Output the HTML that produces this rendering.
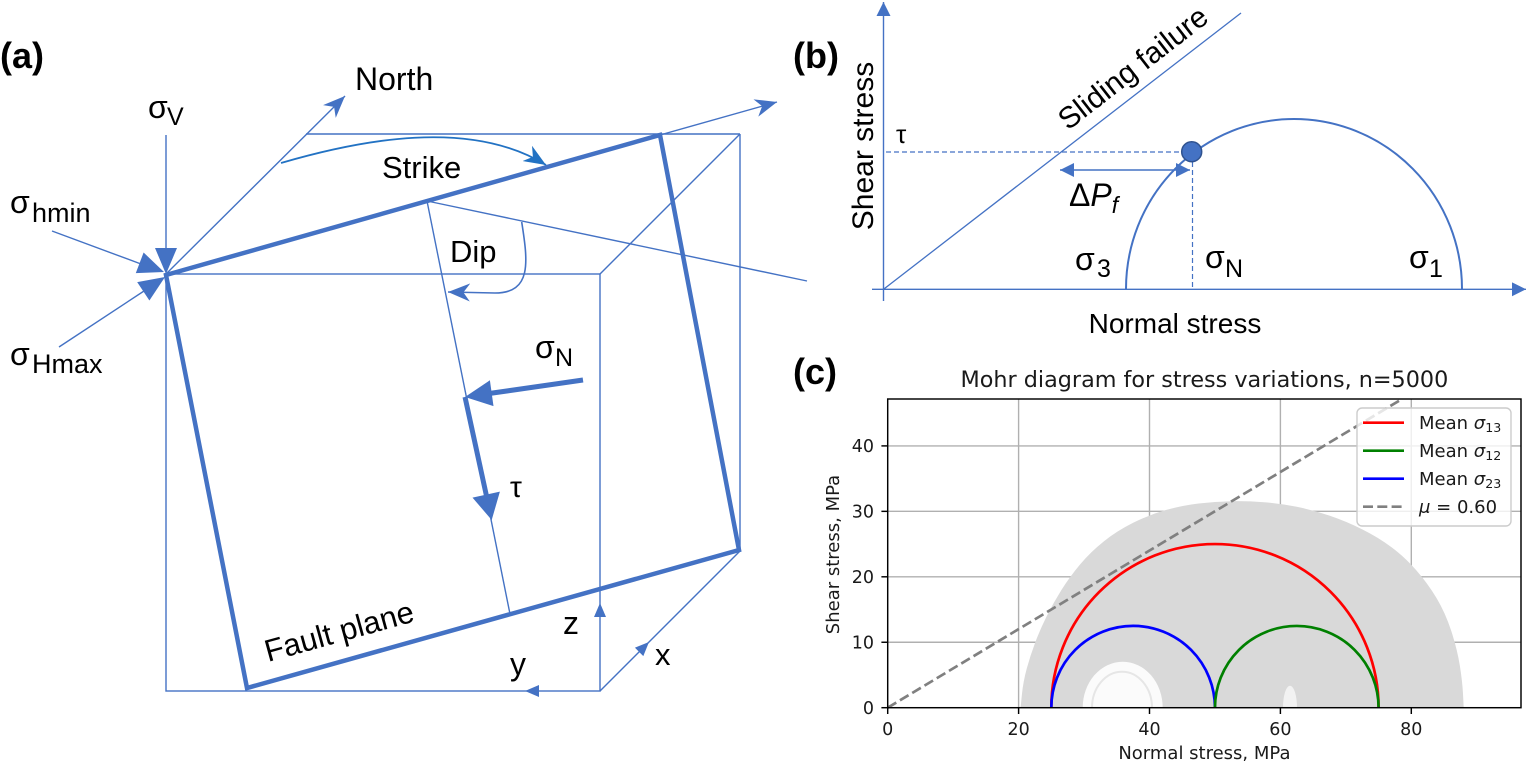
<!DOCTYPE html>
<html><head><meta charset="utf-8"><style>
html,body{margin:0;padding:0;background:#fff;}
svg{display:block;}
.l{font-family:"Liberation Sans",Arial,sans-serif;fill:#000;}
.d{font-family:"DejaVu Sans","Liberation Sans",sans-serif;fill:#1a1a1a;}
</style></head><body>
<svg width="1527" height="765" viewBox="0 0 1527 765" xmlns="http://www.w3.org/2000/svg">
<defs>
<marker id="st" viewBox="0 0 10 10" refX="10" refY="5" markerWidth="22" markerHeight="18" orient="auto" markerUnits="userSpaceOnUse" preserveAspectRatio="none"><path d="M0,0 L10,5 L0,10 L3,5z" fill="#4472c4"/></marker>
<marker id="st2" viewBox="0 0 10 10" refX="10" refY="5" markerWidth="22" markerHeight="18" orient="auto" markerUnits="userSpaceOnUse" preserveAspectRatio="none"><path d="M0,0 L10,5 L0,10 L3,5z" fill="#2272c3"/></marker>
<marker id="tri" viewBox="0 0 10 10" refX="10" refY="5" markerWidth="14" markerHeight="14" orient="auto-start-reverse" markerUnits="userSpaceOnUse" preserveAspectRatio="none"><path d="M0,0 L10,5 L0,10z" fill="#4472c4"/></marker>
</defs>
<rect width="1527" height="765" fill="#fff"/>

<!-- ================= Panel (a) ================= -->
<text class="l" x="0" y="68" font-size="36" font-weight="bold">(a)</text>
<g stroke="#4472c4" stroke-width="1.4" fill="none">
  <rect x="166" y="274" width="434" height="417"/>
  <line x1="306" y1="134" x2="740" y2="134"/>
  <line x1="740" y1="134" x2="740" y2="551"/>
  <line x1="600" y1="274" x2="740" y2="134"/>
  <line x1="600" y1="691" x2="740" y2="551"/>
  <line x1="166" y1="274" x2="345" y2="96" marker-end="url(#st)"/>
  <line x1="660" y1="135" x2="777" y2="102" marker-end="url(#st)"/>
  <line x1="427" y1="201" x2="510" y2="614"/>
  <line x1="427" y1="201" x2="807" y2="281"/>
  <line x1="166" y1="135" x2="166" y2="250"/>
  <line x1="52" y1="231" x2="141" y2="264"/>
  <line x1="59" y1="347" x2="144" y2="291"/>
  <path d="M521.7,222 C528,262 532,293 495,293 L448,292" stroke-width="1.6" marker-end="url(#st)"/>
  <path d="M281,163 C360,140 470,118 546,165" stroke="#2272c3" stroke-width="1.8" marker-end="url(#st2)"/>
</g>
<g fill="#4472c4">
  <polygon points="155,248 177,248 166,274"/>
  <polygon points="164,272 143.6,252.5 135.8,273.1"/>
  <polygon points="165,277 149.4,300.5 137.2,282.1"/>
  <polygon points="600,603 594,617 606,617"/>
  <polygon points="525,691 539,685 539,697"/>
  <polygon points="649,642 643.3,656.1 634.9,647.7"/>
  <polygon points="465,397 493.5,406.1 489.9,380.3"/>
  <polygon points="491.7,520 499.9,491.6 472.5,497.6"/>
</g>
<polygon points="166,275 660,135 739,550 247,688" fill="none" stroke="#4472c4" stroke-width="4.5" stroke-linejoin="miter"/>
<line x1="583" y1="380" x2="490" y2="393.4" stroke="#4472c4" stroke-width="5"/>
<line x1="465" y1="397" x2="486.5" y2="496" stroke="#4472c4" stroke-width="5"/>

<text class="l" x="355" y="90" font-size="32">North</text>
<text class="l" x="148" y="118" font-size="32">σ</text><text class="l" x="167" y="125" font-size="25">V</text>
<text class="l" x="10" y="213" font-size="32">σ</text><text class="l" x="32" y="222" font-size="27">hmin</text>
<text class="l" x="10" y="365" font-size="32">σ</text><text class="l" x="32" y="373" font-size="27">Hmax</text>
<text class="l" x="382" y="178" font-size="31">Strike</text>
<text class="l" x="450" y="262" font-size="31">Dip</text>
<text class="l" x="535" y="358" font-size="32">σ</text><text class="l" x="555" y="366" font-size="25">N</text>
<text class="l" x="510" y="497" font-size="30">τ</text>
<text class="l" x="268" y="662" font-size="31" transform="rotate(-15.5 268 662)">Fault plane</text>
<text class="l" x="563" y="634" font-size="32">z</text>
<text class="l" x="510" y="675" font-size="32">y</text>
<text class="l" x="655" y="665" font-size="31">x</text>

<!-- ================= Panel (b) ================= -->
<text class="l" x="793" y="68" font-size="36" font-weight="bold">(b)</text>
<g stroke="#4472c4" fill="none">
  <line x1="883.5" y1="301" x2="883.5" y2="2" stroke-width="1.4" marker-end="url(#tri)"/>
  <line x1="872" y1="289.3" x2="1526" y2="289.3" stroke-width="1.4" marker-end="url(#tri)"/>
  <line x1="883.5" y1="289.3" x2="1241" y2="13" stroke-width="1.3"/>
  <line x1="886" y1="152" x2="1182" y2="152" stroke-width="1.2" stroke-dasharray="5 3"/>
  <line x1="1192.5" y1="162" x2="1192.5" y2="289" stroke-width="1.2" stroke-dasharray="5 3"/>
  <path d="M1126,289 A168,170 0 0 1 1462,289" stroke-width="2"/>
  <line x1="1060" y1="170" x2="1190" y2="170" stroke-width="1.6" marker-start="url(#tri)" marker-end="url(#tri)"/>
</g>
<circle cx="1191.7" cy="151.7" r="10" fill="#4472c4" stroke="#2f528f" stroke-width="1.5"/>
<text class="l" x="873" y="146" font-size="30" text-anchor="middle" transform="rotate(-90 873 146)">Shear stress</text>
<text class="l" x="1175" y="333" font-size="28" text-anchor="middle">Normal stress</text>
<text class="l" x="1068" y="131" font-size="30" transform="rotate(-37.8 1068 131)">Sliding failure</text>
<text class="l" x="896" y="143" font-size="26">τ</text>
<text class="l" x="1069" y="206" font-size="32">Δ<tspan font-style="italic">P</tspan><tspan font-style="italic" font-size="23" dy="7">f</tspan></text>
<text class="l" x="1075" y="270" font-size="32">σ</text><text class="l" x="1097" y="277" font-size="25">3</text>
<text class="l" x="1205" y="268" font-size="32">σ</text><text class="l" x="1225" y="277" font-size="25">N</text>
<text class="l" x="1409" y="268" font-size="32">σ</text><text class="l" x="1429" y="277" font-size="25">1</text>

<!-- ================= Panel (c) ================= -->
<text class="l" x="793" y="384" font-size="36" font-weight="bold">(c)</text>
<text class="d" x="1204.4" y="387" font-size="22.3" text-anchor="middle">Mohr diagram for stress variations, n=5000</text>
<!-- grid -->
<g stroke="#b0b0b0" stroke-width="1.4">
  <line x1="1018.6" y1="399" x2="1018.6" y2="707.7"/>
  <line x1="1149.5" y1="399" x2="1149.5" y2="707.7"/>
  <line x1="1280.4" y1="399" x2="1280.4" y2="707.7"/>
  <line x1="1411.3" y1="399" x2="1411.3" y2="707.7"/>
  <line x1="887.7" y1="642.25" x2="1521" y2="642.25"/>
  <line x1="887.7" y1="576.8" x2="1521" y2="576.8"/>
  <line x1="887.7" y1="511.35" x2="1521" y2="511.35"/>
  <line x1="887.7" y1="445.9" x2="1521" y2="445.9"/>
</g>
<!-- gray cloud (smoothed) -->
<path fill="#d9d9d9" d="M1020.6,707.7 L1021.9,694.6 Q1023.2,681.5 1026.8,668.4 Q1030.4,655.3 1035.3,642.25 Q1040.2,629.2 1046.75,616.1 Q1053.3,603.0 1061.5,589.9 Q1069.7,576.8 1080.15,564.35 Q1090.6,551.9 1103.7,541.45 Q1116.8,531.0 1133.15,522.8 Q1149.5,514.6 1165.85,510.05 Q1182.2,505.5 1198.6,503.5 Q1215.0,501.5 1231.35,501.2 Q1247.7,500.9 1264.05,502.2 Q1280.4,503.5 1296.75,506.8 Q1313.1,510.1 1329.5,515.65 Q1345.9,521.2 1362.25,529.35 Q1378.6,537.5 1391.7,547.35 Q1404.8,557.2 1416.25,570.25 Q1427.7,583.3 1436.5,598.05 Q1445.3,612.8 1451.2,630.8 Q1457.1,648.8 1459.75,665.15 Q1462.4,681.5 1463.05,694.6 L1463.7,707.7 Z"/>
<path fill="#fbfbfb" d="M1082.7,707.7 A40,46 0 0 1 1162.7,707.7 Z"/>
<path fill="none" stroke="#e6e6e6" stroke-width="2" d="M1092,707.7 A30,36 0 0 1 1152,707.7"/>
<path fill="#f2f2f2" d="M1283,707.7 A7,22 0 0 1 1297,707.7 Z"/>
<!-- dashed friction line -->
<line x1="887.7" y1="707.7" x2="1402" y2="399" stroke="#808080" stroke-width="2.7" stroke-dasharray="10 4.3"/>
<!-- circles -->
<g fill="none" stroke-width="2.7">
  <path d="M1051.3,707.7 A163.65,163.65 0 0 1 1378.6,707.7" stroke="#ff0000"/>
  <path d="M1051.3,707.7 A81.8,81.8 0 0 1 1214.95,707.7" stroke="#0000ff"/>
  <path d="M1214.95,707.7 A81.8,81.8 0 0 1 1378.6,707.7" stroke="#008000"/>
</g>
<!-- spines -->
<rect x="887.7" y="399" width="633.3" height="308.7" fill="none" stroke="#000" stroke-width="1.45"/>
<!-- ticks -->
<g stroke="#000" stroke-width="1.45">
  <line x1="887.7" y1="707.7" x2="887.7" y2="714"/>
  <line x1="1018.6" y1="707.7" x2="1018.6" y2="714"/>
  <line x1="1149.5" y1="707.7" x2="1149.5" y2="714"/>
  <line x1="1280.4" y1="707.7" x2="1280.4" y2="714"/>
  <line x1="1411.3" y1="707.7" x2="1411.3" y2="714"/>
  <line x1="881.4" y1="707.7" x2="887.7" y2="707.7"/>
  <line x1="881.4" y1="642.25" x2="887.7" y2="642.25"/>
  <line x1="881.4" y1="576.8" x2="887.7" y2="576.8"/>
  <line x1="881.4" y1="511.35" x2="887.7" y2="511.35"/>
  <line x1="881.4" y1="445.9" x2="887.7" y2="445.9"/>
</g>
<g class="d" font-size="17.5" text-anchor="middle">
  <text x="887.7" y="735">0</text>
  <text x="1018.6" y="735">20</text>
  <text x="1149.5" y="735">40</text>
  <text x="1280.4" y="735">60</text>
  <text x="1411.3" y="735">80</text>
</g>
<g class="d" font-size="17.5" text-anchor="end">
  <text x="874" y="714">0</text>
  <text x="874" y="648.5">10</text>
  <text x="874" y="583">20</text>
  <text x="874" y="517.5">30</text>
  <text x="874" y="452">40</text>
</g>
<text class="d" x="1204.4" y="759" font-size="18" text-anchor="middle">Normal stress, MPa</text>
<text class="d" x="839" y="554.5" font-size="18" text-anchor="middle" transform="rotate(-90 839 554.5)">Shear stress, MPa</text>
<!-- legend -->
<rect x="1357" y="408" width="154" height="118" rx="5" ry="5" fill="rgba(255,255,255,0.8)" stroke="#cccccc" stroke-width="1.4"/>
<line x1="1363" y1="422.7" x2="1404" y2="422.7" stroke="#ff0000" stroke-width="2.7"/>
<line x1="1363" y1="450.7" x2="1404" y2="450.7" stroke="#008000" stroke-width="2.7"/>
<line x1="1363" y1="478.7" x2="1404" y2="478.7" stroke="#0000ff" stroke-width="2.7"/>
<line x1="1363" y1="506.7" x2="1404" y2="506.7" stroke="#808080" stroke-width="2.7" stroke-dasharray="10 4.3"/>
<g class="d" font-size="18">
  <text x="1419" y="429">Mean <tspan font-style="italic">σ</tspan><tspan font-size="12.6" dy="3">13</tspan></text>
  <text x="1419" y="457">Mean <tspan font-style="italic">σ</tspan><tspan font-size="12.6" dy="3">12</tspan></text>
  <text x="1419" y="485">Mean <tspan font-style="italic">σ</tspan><tspan font-size="12.6" dy="3">23</tspan></text>
  <text x="1419" y="513"><tspan font-style="italic">μ</tspan> = 0.60</text>
</g>
</svg>
</body></html>
